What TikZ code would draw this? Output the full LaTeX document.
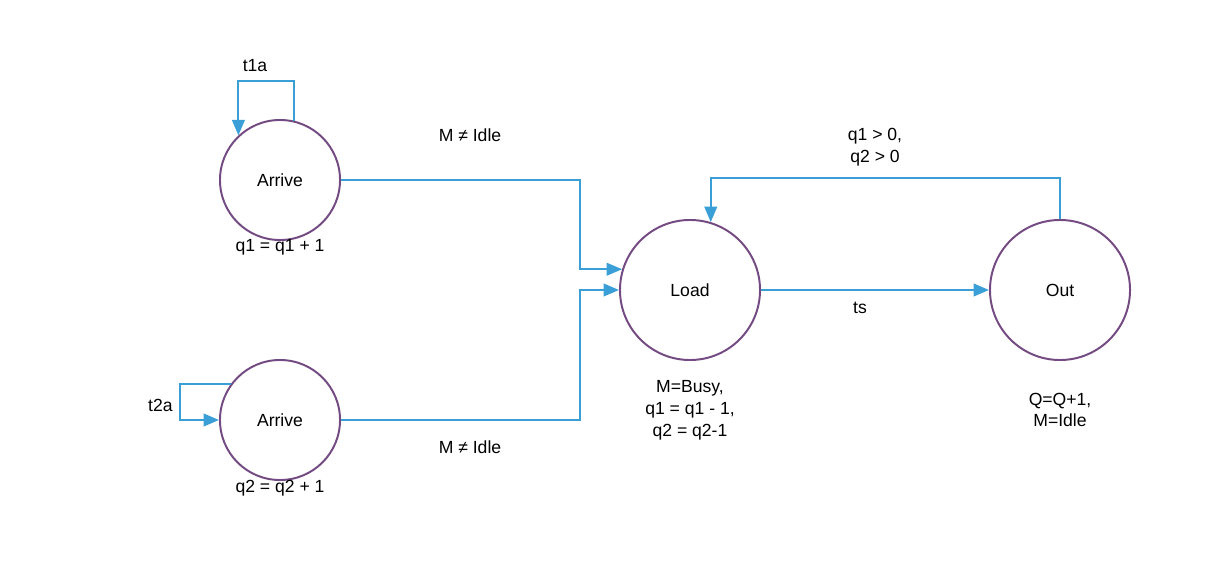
\documentclass[tikz,border=0pt]{standalone}
\usepackage{fontspec}
\setmainfont{Liberation Sans}
\usepackage{tikz}
\usetikzlibrary{arrows.meta,positioning,calc}

\definecolor{statepurple}{HTML}{744A82}
\definecolor{flowblue}{HTML}{3A9FD6}

\begin{document}
\begin{tikzpicture}[x=.025cm,y=.025cm,>={Triangle[length=11pt,width=9pt]},
 font=\fontsize{12.5}{15.5}\selectfont,
 state/.style={circle,draw=statepurple,line width=1.4pt,inner sep=0pt},
 flow/.style={->,draw=flowblue,line width=1.4pt},
 note/.style={align=center,inner sep=1pt}]
\useasboundingbox (0,0) rectangle (1220,560);
% states
\node[state,minimum size=3cm] (a1) at (280,380) {Arrive};
\node[state,minimum size=3cm] (a2) at (280,140) {Arrive};
\node[state,minimum size=3.5cm] (load) at (690,270) {Load};
\node[state,minimum size=3.5cm] (out) at (1060,270) {Out};
% actions below the states
\node[note] (act1) at (280,313) {q1 = q1 + 1};
\node[note] (act2) at (280,72) {q2 = q2 + 1};
\node[note] (actload) at (690,150) {M=Busy,\\q1 = q1 - 1,\\q2 = q2-1};
\node[note] (actout) at (1060,150) {Q=Q+1,\\M=Idle};
% self loops
\draw[flow] (a1.77) -- ++(0,40) coordinate (l1) -| node[pos=.35,above=2pt] (t1) {t1a} (a1.133);
\draw[flow] (a2.144) -- ++(-51,0) coordinate (l2) |- node[pos=.3,left=1pt] (t2) {t2a} (a2.west);
% transitions
\draw[flow] (a1.east) -- (580,380) |- (load.163);
\draw[flow] (a2.east) -- (580,140) |- (load.west);
\draw[flow] (load.east) -- (out.west);
\draw[flow] (out.north) -- ++(0,41) -| (load.73);
% transition labels
\node[note] (c1) at (470,425) {M ≠ Idle};
\node[note] (c2) at (470,113) {M ≠ Idle};
\node[note] (cts) at (860,252) {ts};
\node[note] (cq) at (875,413) {q1 > 0,\\q2 > 0};
\end{tikzpicture}
\end{document}
